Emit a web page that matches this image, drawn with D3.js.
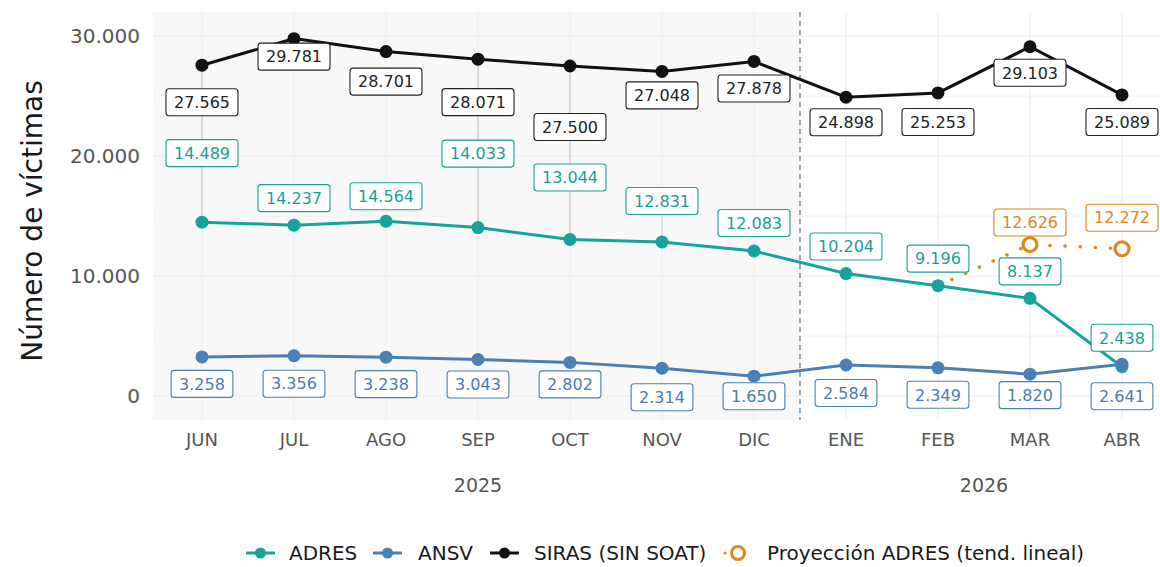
<!DOCTYPE html>
<html>
<head>
<meta charset="utf-8">
<script src="https://cdn.jsdelivr.net/npm/d3@7"></script>
<style>
  body { margin: 0; background: #fff; }
  text { font-family: "DejaVu Sans", sans-serif; }
</style>
</head>
<body>
<div id="chart"></div>
<script>
const width = 1160;
const height = 567;

// data
const months = ["JUN", "JUL", "AGO", "SEP", "OCT", "NOV", "DIC", "ENE", "FEB", "MAR", "ABR"];
const years = [
    { label: "2025", from: "JUN", to: "DIC" },
    { label: "2026", from: "ENE", to: "ABR" }
];
const adres = [14489, 14237, 14564, 14033, 13044, 12831, 12083, 10204, 9196, 8137, 2438];
const ansv = [3258, 3356, 3238, 3043, 2802, 2314, 1650, 2584, 2349, 1820, 2641];
const siras = [27565, 29781, 28701, 28071, 27500, 27048, 27878, 24898, 25253, 29103, 25089];
const projMonths = ["FEB", "MAR", "ABR"];
const projValues = [9196, 12626, 12272];
const yTicks = [0, 10000, 20000, 30000];
const yMinor = [5000, 15000, 25000];

// label nudges (px, screen y) as placed by the repel step
const adresNudge = [-69, -27, -25, -74, -62, -41, -28, -27, -27, -27, -29];
const ansvNudge = [27, 28, 27, 25, 22, 29, 20, 28, 27, 21, 32];
const sirasNudge = [37, 18, 30, 43, 61, 24, 27, 25, 29, 26, 27];
const projNudge = [null, -22, -31];
const guideMonths = ["JUN", "SEP", "OCT"];

const colors = { adres: "#17a39b", ansv: "#4a80b4", siras: "#111111", proj: "#e0861a" };

const fmt = d3.formatLocale({ decimal: ",", thousands: ".", grouping: [3], currency: ["", ""] }).format(",d");

const svg = d3.select("#chart").append("svg")
    .attr("width", width)
    .attr("height", height);

const panel = { left: 153, right: 1160, top: 12, bottom: 420 };

const x = d3.scalePoint().domain(months).range([156, 1168]).padding(0.5);
const y = d3.scaleLinear().domain([-2000, 32000]).range([panel.bottom, panel.top]);

const splitX = (x("DIC") + x("ENE")) / 2;

// shaded 2025 region
svg.append("rect")
    .attr("x", panel.left).attr("y", panel.top)
    .attr("width", splitX - panel.left).attr("height", panel.bottom - panel.top)
    .attr("fill", "#f8f8f8");

// grid
svg.append("g").selectAll("line").data(yMinor).join("line")
    .attr("x1", panel.left).attr("x2", panel.right)
    .attr("y1", d => y(d)).attr("y2", d => y(d))
    .attr("stroke", "#f2f2f2").attr("stroke-width", 1);
svg.append("g").selectAll("line").data(yTicks).join("line")
    .attr("x1", panel.left).attr("x2", panel.right)
    .attr("y1", d => y(d)).attr("y2", d => y(d))
    .attr("stroke", "#ebebeb").attr("stroke-width", 1.2);
svg.append("g").selectAll("line").data(months).join("line")
    .attr("x1", d => x(d)).attr("x2", d => x(d))
    .attr("y1", panel.top).attr("y2", panel.bottom)
    .attr("stroke", "#eeeeee").attr("stroke-width", 1.2);

// dashed split line
svg.append("line")
    .attr("x1", splitX).attr("x2", splitX)
    .attr("y1", panel.top).attr("y2", panel.bottom)
    .attr("stroke", "#2f5562").attr("stroke-width", 1)
    .attr("stroke-dasharray", "5,4");

// y axis labels
svg.append("g").selectAll("text").data(yTicks).join("text")
    .attr("x", 140).attr("y", d => y(d))
    .attr("dy", "0.35em")
    .attr("text-anchor", "end")
    .attr("font-size", 20)
    .attr("fill", "#555")
    .text(d => fmt(d));

svg.append("text")
    .attr("transform", `translate(42,${(panel.top + panel.bottom) / 2 + 5}) rotate(-90)`)
    .attr("text-anchor", "middle")
    .attr("font-size", 28)
    .attr("fill", "#1a1a1a")
    .text("Número de víctimas");

// x axis labels
svg.append("g").selectAll("text").data(months).join("text")
    .attr("x", d => x(d)).attr("y", 440)
    .attr("dy", "0.35em")
    .attr("text-anchor", "middle")
    .attr("font-size", 18)
    .attr("fill", "#555")
    .text(d => d);

svg.append("g").selectAll("text").data(years).join("text")
    .attr("x", d => (x(d.from) + x(d.to)) / 2).attr("y", 485)
    .attr("dy", "0.35em")
    .attr("text-anchor", "middle")
    .attr("font-size", 19)
    .attr("fill", "#555")
    .text(d => d.label);

// guide segments (point to label)
const gGuides = svg.append("g");
guideMonths.forEach(m => {
    const i = months.indexOf(m);
    gGuides.append("line")
        .attr("x1", x(m)).attr("x2", x(m))
        .attr("y1", y(siras[i])).attr("y2", y(adres[i]))
        .attr("stroke", "#c8c8c8").attr("stroke-width", 1.3);
});
gGuides.append("line")
    .attr("x1", x("NOV")).attr("x2", x("NOV"))
    .attr("y1", y(adres[5])).attr("y2", y(adres[5]) + adresNudge[5])
    .attr("stroke", "#d6d6d6").attr("stroke-width", 1.2);

const line = d3.line().x((d, i) => x(months[i])).y(d => y(d));

const series = [
    { key: "adres", values: adres, nudge: adresNudge },
    { key: "ansv", values: ansv, nudge: ansvNudge },
    { key: "siras", values: siras, nudge: sirasNudge }
];

// projection dotted line
svg.append("path")
    .datum(projValues)
    .attr("d", d3.line().x((d, i) => x(projMonths[i])).y(d => y(d)))
    .attr("fill", "none")
    .attr("stroke", colors.proj)
    .attr("stroke-width", 3.5)
    .attr("stroke-linecap", "round")
    .attr("stroke-dasharray", "0.1,15");

series.forEach(s => {
    svg.append("path")
        .datum(s.values)
        .attr("d", line)
        .attr("fill", "none")
        .attr("stroke", colors[s.key])
        .attr("stroke-width", 3);
    svg.append("g").selectAll("circle").data(s.values).join("circle")
        .attr("cx", (d, i) => x(months[i]))
        .attr("cy", d => y(d))
        .attr("r", 6.5)
        .attr("fill", colors[s.key]);
});

// projection open circles (skip first: it is the last observed point)
svg.append("g").selectAll("circle").data(projValues.slice(1)).join("circle")
    .attr("cx", (d, i) => x(projMonths[i + 1]))
    .attr("cy", d => y(d))
    .attr("r", 7)
    .attr("fill", "#fff")
    .attr("stroke", colors.proj)
    .attr("stroke-width", 3.2);

// labels
function drawLabel(cx, cy, txt, color) {
    const g = svg.append("g");
    const t = g.append("text")
        .attr("x", cx).attr("y", cy)
        .attr("dy", "0.36em")
        .attr("text-anchor", "middle")
        .attr("font-size", 16)
        .attr("fill", color)
        .text(txt);
    const w = t.node().getComputedTextLength() + 16;
    g.insert("rect", "text")
        .attr("x", cx - w / 2).attr("y", cy - 13.5)
        .attr("width", w).attr("height", 27)
        .attr("rx", 3)
        .attr("fill", "#fff")
        .attr("stroke", color)
        .attr("stroke-width", 1.1);
}

const labelColors = { adres: "#1a9e96", ansv: "#4a7db0", siras: "#222" };
series.forEach(s => {
    s.values.forEach((v, i) => {
        drawLabel(x(months[i]), y(v) + s.nudge[i], fmt(v), labelColors[s.key]);
    });
});
projValues.forEach((v, i) => {
    if (projNudge[i] === null) return;
    drawLabel(x(projMonths[i]), y(v) + projNudge[i], fmt(v), colors.proj);
});

// legend
const legendItems = [
    { label: "ADRES", key: "adres", kx: 246, tx: 289 },
    { label: "ANSV", key: "ansv", kx: 373, tx: 418 },
    { label: "SIRAS (SIN SOAT)", key: "siras", kx: 490, tx: 534 },
    { label: "Proyección ADRES (tend. lineal)", key: "proj", kx: 722, tx: 767 }
];
const ly = 553;
const legend = svg.append("g");
legendItems.forEach(it => {
    if (it.key === "proj") {
        legend.append("line")
            .attr("x1", it.kx + 3).attr("x2", it.kx + 10)
            .attr("y1", ly).attr("y2", ly)
            .attr("stroke", colors.proj).attr("stroke-width", 3)
            .attr("stroke-linecap", "round")
            .attr("stroke-dasharray", "0.1,20");
        legend.append("circle")
            .attr("cx", it.kx + 16).attr("cy", ly).attr("r", 6.5)
            .attr("fill", "#fff").attr("stroke", colors.proj).attr("stroke-width", 3);
    } else {
        legend.append("line")
            .attr("x1", it.kx).attr("x2", it.kx + 29)
            .attr("y1", ly).attr("y2", ly)
            .attr("stroke", colors[it.key]).attr("stroke-width", 3);
        legend.append("circle")
            .attr("cx", it.kx + 14.5).attr("cy", ly).attr("r", 5.5)
            .attr("fill", colors[it.key]);
    }
    legend.append("text")
        .attr("x", it.tx).attr("y", ly)
        .attr("dy", "0.36em")
        .attr("font-size", 20)
        .attr("fill", "#1a1a1a")
        .text(it.label);
});
</script>
</body>
</html>
